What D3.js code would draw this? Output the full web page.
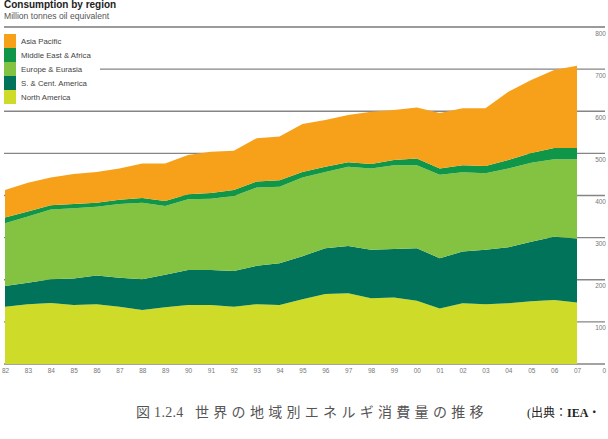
<!DOCTYPE html>
<html>
<head>
<meta charset="utf-8">
<script src="https://cdn.jsdelivr.net/npm/d3@7"></script>
<style>
  html, body { margin: 0; padding: 0; background: #fff; }
  svg { display: block; }
</style>
</head>
<body>
<svg id="chart" width="608" height="439"></svg>
<script>
// ---- data (Million tonnes oil equivalent) ----
const years = ["82","83","84","85","86","87","88","89","90","91","92","93","94","95","96","97","98","99","00","01","02","03","04","05","06","07"];
const northAmerica   = [136,142,145,140,142,136,128,135,140,140,136,142,140,154,166,168,156,158,150,132,144,142,144,149,152,146];
const scAmerica      = [49,51,56,63,68,69,73,77,83,83,85,91,99,102,109,112,115,115,125,119,123,129,133,141,150,152];
const europeEurasia  = [149,157,166,167,163,175,182,163,168,169,178,186,182,187,181,188,193,199,197,198,188,182,187,188,184,188];
const middleEastAfrica = [14,12,10,10,10,10,11,12,12,14,14,14,15,13,12,11,11,12,16,15,17,17,20,23,27,27];
const asiaPacific    = [65,68,66,71,73,74,82,89,93,98,93,103,104,114,111,112,124,119,121,132,135,137,162,173,185,195];
const yTicks = [0,100,200,300,400,500,600,700,800];
const seriesNames = ["North America","S. & Cent. America","Europe & Eurasia","Middle East & Africa","Asia Pacific"];
const legendOrder = ["Asia Pacific","Middle East & Africa","Europe & Eurasia","S. & Cent. America","North America"];
const colors = {
  "North America": "#cedb28",
  "S. & Cent. America": "#00735a",
  "Europe & Eurasia": "#84c341",
  "Middle East & Africa": "#109648",
  "Asia Pacific": "#f7a11b"
};

// ---- build table ----
const table = years.map((y, i) => ({
  year: y,
  "North America": northAmerica[i],
  "S. & Cent. America": scAmerica[i],
  "Europe & Eurasia": europeEurasia[i],
  "Middle East & Africa": middleEastAfrica[i],
  "Asia Pacific": asiaPacific[i]
}));

const svg = d3.select("#chart");
svg.append("rect").attr("width", 608).attr("height", 439).attr("fill", "#fff");

const x = d3.scalePoint().domain(years).range([5, 577]);
const y = d3.scaleLinear().domain([0, 800]).range([364, 27]);

// ---- gridlines (behind areas) ----
const grid = svg.append("g");
yTicks.forEach(t => {
  grid.append("line")
    .attr("x1", t === 700 ? 100 : 4)
    .attr("x2", 605)
    .attr("y1", y(t)).attr("y2", y(t))
    .attr("stroke", t === 800 ? "#9a9a9a" : "#858585")
    .attr("stroke-width", t === 800 ? 2 : 1.3);
});

// ---- stacked areas ----
const stack = d3.stack().keys(seriesNames);
const layers = stack(table);
const area = d3.area()
  .x(d => x(d.data.year))
  .y0(d => y(d[0]))
  .y1(d => y(d[1]));

svg.append("g").selectAll("path")
  .data(layers)
  .join("path")
  .attr("d", area)
  .attr("fill", d => colors[d.key]);

// ---- right axis labels ----
const yAxis = d3.axisRight(y).tickValues(yTicks).tickSize(0).tickPadding(0);
const ga = svg.append("g").attr("transform", "translate(606,6)").call(yAxis);
ga.select(".domain").remove();
ga.selectAll("text")
  .attr("text-anchor", "end")
  .attr("font-family", "Liberation Sans, Arial, sans-serif")
  .attr("font-size", 6.5)
  .attr("fill", "#777");

// ---- bottom axis labels ----
const xAxis = d3.axisBottom(x).tickSize(0).tickPadding(0);
const gx = svg.append("g").attr("transform", "translate(0,368)").call(xAxis);
gx.select(".domain").remove();
gx.selectAll("text")
  .attr("font-family", "Liberation Sans, Arial, sans-serif")
  .attr("font-size", 6.5)
  .attr("fill", "#777");

// ---- title ----
svg.append("text").attr("x", 4).attr("y", 7.5)
  .attr("font-family", "Liberation Sans, Arial, sans-serif")
  .attr("font-weight", "bold").attr("font-size", 10).attr("fill", "#222")
  .text("Consumption by region");
svg.append("text").attr("x", 4).attr("y", 18.5)
  .attr("font-family", "Liberation Sans, Arial, sans-serif")
  .attr("font-size", 8.6).attr("fill", "#555")
  .text("Million tonnes oil equivalent");

// ---- legend ----
const lg = svg.append("g");
legendOrder.forEach((name, i) => {
  lg.append("rect").attr("x", 4).attr("y", 34 + i * 14)
    .attr("width", 12).attr("height", 14).attr("fill", colors[name]);
  lg.append("text").attr("x", 21).attr("y", 41 + i * 14 + 2.6)
    .attr("font-family", "Liberation Sans, Arial, sans-serif")
    .attr("font-size", 7.8).attr("fill", "#444")
    .text(name);
});

// ---- caption ----
const capFont = "Liberation Serif, 'Noto Sans CJK JP', serif";
svg.append("text").attr("x", 136).attr("y", 417)
  .attr("font-family", capFont)
  .attr("font-size", 14).attr("fill", "#555")
  .attr("letter-spacing", 0.3)
  .text("図 1.2.4");
svg.append("text").attr("x", 195).attr("y", 417)
  .attr("font-family", capFont)
  .attr("font-size", 14).attr("fill", "#555")
  .attr("letter-spacing", 4.3)
  .text("世界の地域別エネルギ消費量の推移");
svg.append("text").attr("x", 527).attr("y", 417)
  .attr("font-family", capFont)
  .attr("font-size", 12).attr("fill", "#222")
  .html("(出典：<tspan font-weight='bold'>IEA</tspan>・");
</script>
</body>
</html>
